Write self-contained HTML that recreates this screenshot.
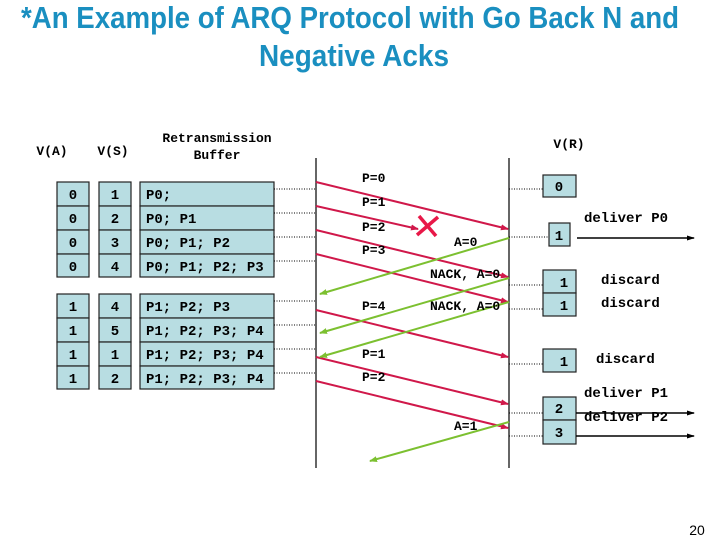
<!DOCTYPE html>
<html><head><meta charset="utf-8"><style>
html,body{margin:0;padding:0;background:#fff;width:720px;height:540px;overflow:hidden}
svg{display:block}
.m{font-family:"Liberation Mono",monospace;font-weight:bold;font-size:14px;fill:#000}
.s{font-family:"Liberation Mono",monospace;font-weight:bold;font-size:13px;fill:#000}
.b{fill:#b8dde2;stroke:#222;stroke-width:1.2}
.d{stroke:#000;stroke-width:1;stroke-dasharray:1,1.5}
.r{stroke:#d0184a;stroke-width:2;fill:none}
.g{stroke:#7cc030;stroke-width:2;fill:none}
</style></head><body>
<svg width="720" height="540" xmlns="http://www.w3.org/2000/svg">
<defs>
<marker id="ar" markerWidth="8" markerHeight="8" refX="7" refY="4" orient="auto" markerUnits="userSpaceOnUse"><path d="M0,1 L8,4 L0,7z" fill="#d0184a"/></marker>
<marker id="ag" markerWidth="8" markerHeight="8" refX="7" refY="4" orient="auto" markerUnits="userSpaceOnUse"><path d="M0,1 L8,4 L0,7z" fill="#7cc030"/></marker>
<marker id="ak" markerWidth="8" markerHeight="8" refX="7" refY="4" orient="auto" markerUnits="userSpaceOnUse"><path d="M0,1.5 L8,4 L0,6.5z" fill="#000"/></marker>
</defs>
<g font-family="Liberation Sans, sans-serif" font-weight="bold" font-size="31" fill="#1a8fc0" text-anchor="middle">
<text x="350" y="28" textLength="658" lengthAdjust="spacingAndGlyphs">*An Example of ARQ Protocol with Go Back N and</text>
<text x="354" y="66" textLength="190" lengthAdjust="spacingAndGlyphs">Negative Acks</text>
</g>
<text class="s" x="52" y="155" text-anchor="middle">V(A)</text>
<text class="s" x="113" y="155" text-anchor="middle">V(S)</text>
<text class="s" x="217" y="142" text-anchor="middle">Retransmission</text>
<text class="s" x="217" y="159" text-anchor="middle">Buffer</text>
<text class="s" x="569" y="148" text-anchor="middle">V(R)</text>
<g>
<rect class="b" x="57" y="182" width="32" height="24"/><rect class="b" x="57" y="206" width="32" height="24"/><rect class="b" x="57" y="230" width="32" height="24"/><rect class="b" x="57" y="254" width="32" height="23"/>
<rect class="b" x="99" y="182" width="32" height="24"/><rect class="b" x="99" y="206" width="32" height="24"/><rect class="b" x="99" y="230" width="32" height="24"/><rect class="b" x="99" y="254" width="32" height="23"/>
<rect class="b" x="140" y="182" width="134" height="24"/><rect class="b" x="140" y="206" width="134" height="24"/><rect class="b" x="140" y="230" width="134" height="24"/><rect class="b" x="140" y="254" width="134" height="23"/>
<rect class="b" x="57" y="294" width="32" height="24"/><rect class="b" x="57" y="318" width="32" height="24"/><rect class="b" x="57" y="342" width="32" height="24"/><rect class="b" x="57" y="366" width="32" height="23"/>
<rect class="b" x="99" y="294" width="32" height="24"/><rect class="b" x="99" y="318" width="32" height="24"/><rect class="b" x="99" y="342" width="32" height="24"/><rect class="b" x="99" y="366" width="32" height="23"/>
<rect class="b" x="140" y="294" width="134" height="24"/><rect class="b" x="140" y="318" width="134" height="24"/><rect class="b" x="140" y="342" width="134" height="24"/><rect class="b" x="140" y="366" width="134" height="23"/>
</g>
<g class="m" text-anchor="middle">
<text x="73" y="199">0</text><text x="73" y="223">0</text><text x="73" y="247">0</text><text x="73" y="271">0</text>
<text x="115" y="199">1</text><text x="115" y="223">2</text><text x="115" y="247">3</text><text x="115" y="271">4</text>
<text x="73" y="311">1</text><text x="73" y="335">1</text><text x="73" y="359">1</text><text x="73" y="383">1</text>
<text x="115" y="311">4</text><text x="115" y="335">5</text><text x="115" y="359">1</text><text x="115" y="383">2</text>
</g>
<g class="m">
<text x="146" y="199">P0;</text><text x="146" y="223">P0; P1</text><text x="146" y="247">P0; P1; P2</text><text x="146" y="271">P0; P1; P2; P3</text>
<text x="146" y="311">P1; P2; P3</text><text x="146" y="335">P1; P2; P3; P4</text><text x="146" y="359">P1; P2; P3; P4</text><text x="146" y="383">P1; P2; P3; P4</text>
</g>
<g class="d">
<line x1="274" y1="189" x2="316" y2="189"/><line x1="274" y1="213" x2="316" y2="213"/><line x1="274" y1="237" x2="316" y2="237"/><line x1="274" y1="261" x2="316" y2="261"/>
<line x1="274" y1="301" x2="316" y2="301"/><line x1="274" y1="325" x2="316" y2="325"/><line x1="274" y1="349" x2="316" y2="349"/><line x1="274" y1="373" x2="316" y2="373"/>
<line x1="509" y1="189" x2="543" y2="189"/><line x1="509" y1="237" x2="549" y2="237"/><line x1="509" y1="285" x2="543" y2="285"/><line x1="509" y1="309" x2="543" y2="309"/>
<line x1="509" y1="364" x2="543" y2="364"/><line x1="509" y1="413" x2="543" y2="413"/><line x1="509" y1="436" x2="543" y2="436"/>
</g>
<line x1="316" y1="158" x2="316" y2="468" stroke="#000" stroke-width="1.2"/>
<line x1="509" y1="158" x2="509" y2="468" stroke="#000" stroke-width="1.2"/>
<line class="r" x1="316" y1="182" x2="508" y2="229" marker-end="url(#ar)"/>
<line class="r" x1="316" y1="206" x2="418" y2="229" marker-end="url(#ar)"/>
<line class="r" x1="316" y1="230" x2="508" y2="277" marker-end="url(#ar)"/>
<line class="r" x1="316" y1="254" x2="508" y2="302" marker-end="url(#ar)"/>
<line class="r" x1="316" y1="310" x2="508" y2="357" marker-end="url(#ar)"/>
<line class="r" x1="316" y1="357" x2="508" y2="404" marker-end="url(#ar)"/>
<line class="r" x1="316" y1="381" x2="508" y2="428" marker-end="url(#ar)"/>
<g stroke="#e81848" stroke-width="3.5"><line x1="417" y1="235" x2="438" y2="217"/><line x1="419" y1="216" x2="436" y2="236"/></g>
<line class="g" x1="509" y1="238" x2="320" y2="294" marker-end="url(#ag)"/>
<line class="g" x1="509" y1="278" x2="320" y2="333" marker-end="url(#ag)"/>
<line class="g" x1="509" y1="302" x2="320" y2="357" marker-end="url(#ag)"/>
<line class="g" x1="509" y1="422" x2="370" y2="461" marker-end="url(#ag)"/>
<g class="s">
<text x="362" y="182">P=0</text><text x="362" y="206">P=1</text><text x="362" y="231">P=2</text><text x="362" y="254">P=3</text>
<text x="362" y="310">P=4</text><text x="362" y="358">P=1</text><text x="362" y="381">P=2</text>
<text x="454" y="246">A=0</text><text x="430" y="278">NACK, A=0</text><text x="430" y="310">NACK, A=0</text><text x="454" y="430">A=1</text>
</g>
<rect class="b" x="543" y="175" width="33" height="22"/>
<rect class="b" x="549" y="223" width="21" height="23"/>
<rect class="b" x="543" y="270" width="33" height="23"/><rect class="b" x="543" y="293" width="33" height="23"/>
<rect class="b" x="543" y="349" width="33" height="23"/>
<rect class="b" x="543" y="397" width="33" height="23"/><rect class="b" x="543" y="420" width="33" height="24"/>
<g class="m" text-anchor="middle">
<text x="559" y="191">0</text><text x="559" y="240">1</text><text x="564" y="287">1</text><text x="564" y="310">1</text>
<text x="564" y="366">1</text><text x="559" y="413">2</text><text x="559" y="437">3</text>
</g>
<g class="m">
<text x="584" y="222">deliver P0</text><text x="601" y="284">discard</text><text x="601" y="307">discard</text><text x="596" y="363">discard</text>
<text x="584" y="397">deliver P1</text><text x="584" y="421">deliver P2</text>
</g>
<g stroke="#000" stroke-width="1.5">
<line x1="577" y1="238" x2="694" y2="238" marker-end="url(#ak)"/>
<line x1="576" y1="413" x2="694" y2="413" marker-end="url(#ak)"/>
<line x1="576" y1="436" x2="694" y2="436" marker-end="url(#ak)"/>
</g>
<text x="697" y="535" font-family="Liberation Sans, sans-serif" font-size="14" text-anchor="middle">20</text>
</svg>
</body></html>
